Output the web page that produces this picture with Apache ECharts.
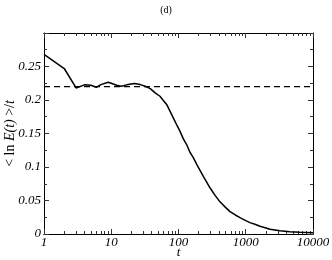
<!DOCTYPE html>
<html><head><meta charset="utf-8">
<script src="https://cdn.jsdelivr.net/npm/echarts@6/dist/echarts.min.js"></script>
<style>html,body{margin:0;padding:0;background:#fff}#c{width:332px;height:260px}</style>
</head><body><div id="c"></div>
<script>
const tValues = [1, 2, 3, 4, 5, 6, 7, 9, 10, 12, 14, 17, 22, 27, 32, 38, 45, 53, 60, 67, 75, 84, 95, 105, 118, 132, 148, 166, 190, 209, 234, 294, 350, 414, 500, 583, 700, 821, 1000, 1156, 1400, 1628, 2000, 2291, 3226, 4540, 6390, 10000];
const lnEoverT = [0.268, 0.247, 0.218, 0.2226, 0.222, 0.219, 0.223, 0.2265, 0.225, 0.222, 0.2205, 0.2226, 0.2246, 0.223, 0.2205, 0.217, 0.2106, 0.2056, 0.199, 0.193, 0.183, 0.173, 0.162, 0.1535, 0.142, 0.1335, 0.122, 0.114, 0.1025, 0.095, 0.086, 0.069, 0.0576, 0.048, 0.0397, 0.0334, 0.0284, 0.0245, 0.020, 0.017, 0.0142, 0.0115, 0.009, 0.0072, 0.005, 0.0035, 0.0025, 0.002];
const plateauLevel = 0.22;
const xRange = [1, 10000];
const yRange = [0, 0.3];
const xMajorTicks = [1, 10, 100, 1000, 10000];
const xMinorTicks = [2,3,4,5,6,7,8,9,20,30,40,50,60,70,80,90,200,300,400,500,600,700,800,900,2000,3000,4000,5000,6000,7000,8000,9000];

const serif = 'Liberation Serif';
const black = '#000';

function xAxisCfg(pos, ticks, len, labels) {
  return {
    type: 'log', logBase: 10, min: xRange[0], max: xRange[1], position: pos,
    axisLine: { show: true, lineStyle: { color: black, width: 1 } },
    axisTick: { show: true, inside: true, length: len, customValues: ticks, lineStyle: { color: '#333', width: 1 } },
    axisLabel: labels ? { show: true, customValues: xMajorTicks, margin: 2, fontFamily: serif, fontStyle: 'italic', fontSize: 13, color: black, formatter: v => String(v) } : { show: false },
    splitLine: { show: false }, minorTick: { show: false }
  };
}
function yAxisCfg(pos, labels) {
  return {
    type: 'value', min: yRange[0], max: yRange[1], interval: 0.05, position: pos,
    axisLine: { show: true, lineStyle: { color: black, width: 1 } },
    axisTick: { show: true, inside: true, length: 5, lineStyle: { color: '#333', width: 1 } },
    minorTick: { show: true, splitNumber: 2, length: 3, lineStyle: { color: '#333', width: 1 } },
    axisLabel: labels ? { show: true, margin: 3, fontFamily: serif, fontStyle: 'italic', fontSize: 13, color: black,
      formatter: v => (Math.abs(v - yRange[1]) < 1e-9 ? '' : String(+v.toFixed(3))) } : { show: false },
    splitLine: { show: false }
  };
}

const xAxes = [
  Object.assign(xAxisCfg('bottom', xMajorTicks, 5, true), {
    name: 't', nameLocation: 'middle', nameGap: 12, nameMoveOverlap: false,
    nameTextStyle: { fontFamily: serif, fontStyle: 'italic', fontSize: 13, color: black }
  }),
  xAxisCfg('bottom', xMinorTicks, 3, false),
  xAxisCfg('top', xMajorTicks, 5, false),
  xAxisCfg('top', xMinorTicks, 3, false)
];
const yAxes = [
  Object.assign(yAxisCfg('left', true), {
    name: '{u|< ln }{i|E(t)}{u| >/}{i|t}', nameLocation: 'middle', nameGap: 27, nameRotate: 90, nameMoveOverlap: false,
    nameTextStyle: { color: black, rich: {
      u: { fontFamily: serif, fontSize: 14, color: black },
      i: { fontFamily: serif, fontSize: 14, fontStyle: 'italic', color: black }
    } }
  }),
  yAxisCfg('right', false)
];

const chart = echarts.init(document.getElementById('c'), null, { renderer: 'canvas' });
chart.setOption({
  animation: false,
  backgroundColor: '#fff',
  title: { text: '(d)', left: 'center', top: 0, textStyle: { fontFamily: serif, fontSize: 10, fontWeight: 'normal', color: black } },
  grid: { left: 44, right: 19, top: 33, bottom: 26, containLabel: false, outerBoundsMode: 'none' },
  xAxis: xAxes,
  yAxis: yAxes,
  series: [
    {
      type: 'line', xAxisIndex: 0, yAxisIndex: 0, showSymbol: false,
      data: xRange.map(t => [t, plateauLevel]),
      lineStyle: { color: black, width: 1.3, type: [6, 4] }
    },
    {
      type: 'line', xAxisIndex: 0, yAxisIndex: 0, showSymbol: false, smooth: false,
      data: tValues.map((t, i) => [t, lnEoverT[i]]),
      lineStyle: { color: black, width: 1.5 }
    }
  ]
});
</script></body></html>
